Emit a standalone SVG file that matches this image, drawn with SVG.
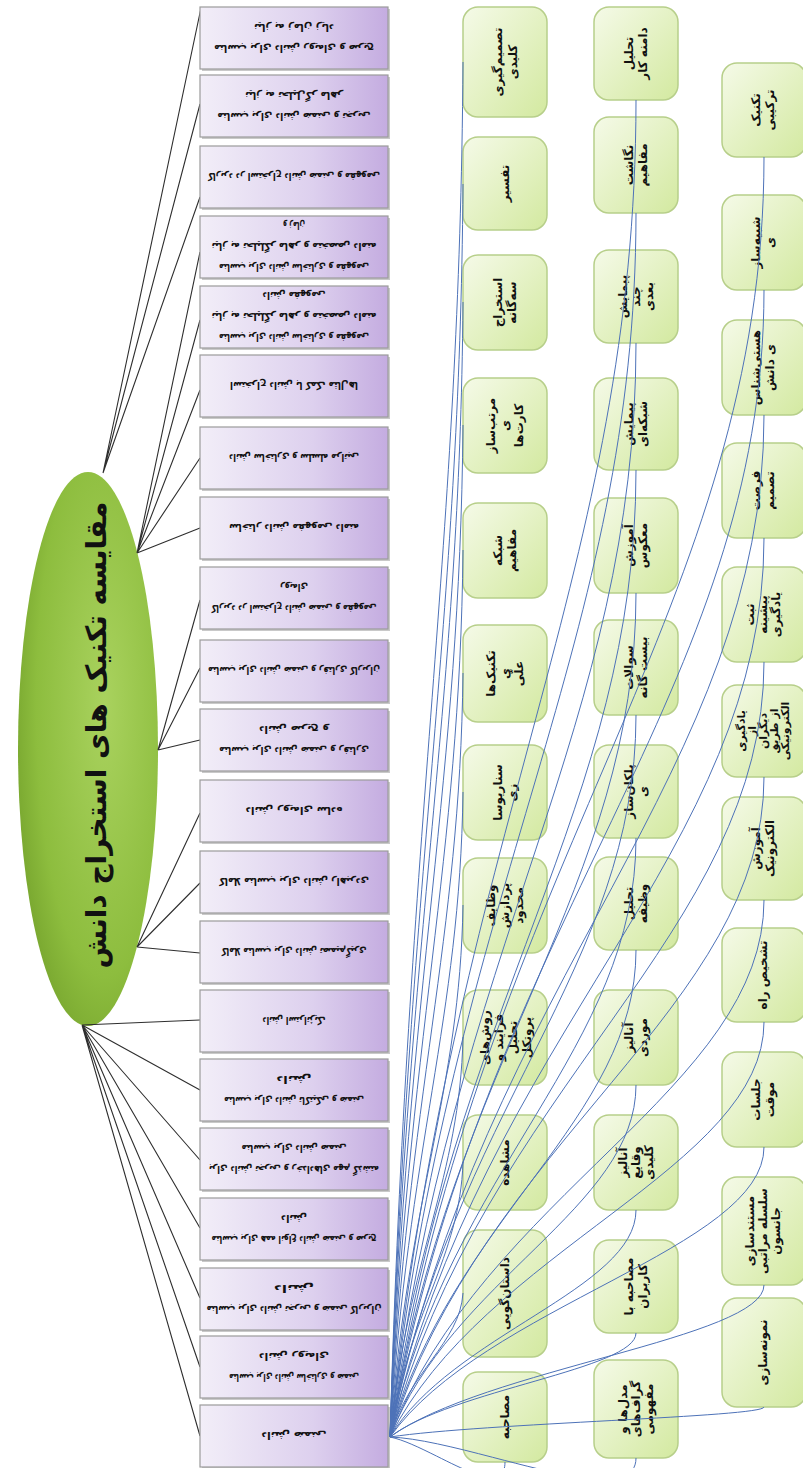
<svg xmlns="http://www.w3.org/2000/svg" width="803" height="1468" viewBox="0 0 803 1468">
<defs>
<linearGradient id="gP" x1="0" y1="0" x2="1" y2="0">
<stop offset="0" stop-color="#f2eef8"/><stop offset="0.6" stop-color="#ddd0ee"/><stop offset="1" stop-color="#c4ace0"/>
</linearGradient>
<linearGradient id="gG" x1="0" y1="0" x2="1" y2="1">
<stop offset="0" stop-color="#f5fae8"/><stop offset="1" stop-color="#d3e9a0"/>
</linearGradient>
<radialGradient id="gE" cx="0.62" cy="0.42" r="0.7">
<stop offset="0" stop-color="#a9d25e"/><stop offset="0.7" stop-color="#8dbd3e"/><stop offset="1" stop-color="#74a22c"/>
</radialGradient>
<style>
.pb{fill:url(#gP);stroke:#9b9b9b;stroke-width:1.2}
.sh{fill:#c9c9c9}
.gb{fill:url(#gG);stroke:#b7cf8a;stroke-width:1.5}
.pt{font-family:"DejaVu Sans",sans-serif;font-weight:bold;font-size:11px;fill:#111;text-anchor:middle}
.gt{font-family:"DejaVu Sans",sans-serif;font-weight:bold;font-size:12px;fill:#111;text-anchor:middle}
.gs{font-size:11px}
.tt{font-family:"DejaVu Sans",sans-serif;font-weight:bold;font-size:28px;fill:#111;text-anchor:middle}
.bk{stroke:#2e2e2e;stroke-width:1.1;fill:none}
.bl{stroke:#4d72b8;stroke-width:1;fill:none}
</style>
</defs>
<rect width="803" height="1468" fill="#ffffff"/>

<g id="title">
<ellipse cx="88" cy="749" rx="70" ry="277" fill="url(#gE)"/>
<text class="tt" transform="translate(96,735) rotate(-90)" x="0" y="10">مقایسه تکنیک های استخراج دانش</text>
</g>

<g id="connectors-main">
<path class="bk" d="M103,473 L201,8 M103,473 L200,104 M103,473 L200,197"/>
<path class="bk" d="M137,553 L200,252 M137,553 L200,320 M137,553 L200,390 M137,553 L200,458 M137,553 L200,528"/>
<path class="bk" d="M158,750 L200,600 M158,750 L200,668 M158,750 L200,740"/>
<path class="bk" d="M137,947 L200,813 M137,947 L200,883 M137,947 L200,953"/>
<path class="bk" d="M82,1025 L200,1020 M82,1025 L200,1090 M82,1025 L200,1160 M82,1025 L200,1228 M82,1025 L200,1298 M82,1025 L200,1367 M82,1025 L200,1436"/>
</g>

<g id="p1"><rect class="sh" x="202" y="9" width="188" height="62"/><rect class="pb" x="200" y="7" width="188" height="62"/><g transform="rotate(180 294 38)"><text class="pt" x="294" y="31" textLength="160" lengthAdjust="spacingAndGlyphs">مناسب برای دانش رویه‌ای و صریح</text><text class="pt" x="294" y="52" textLength="80" lengthAdjust="spacingAndGlyphs">نیاز به زمان زیاد</text></g></g>
<g id="p2"><rect class="sh" x="202" y="77" width="188" height="62"/><rect class="pb" x="200" y="75" width="188" height="62"/><g transform="rotate(180 294 106)"><text class="pt" x="294" y="99" textLength="153" lengthAdjust="spacingAndGlyphs">مناسب برای دانش ضمنی و تجربی</text><text class="pt" x="294" y="120" textLength="98" lengthAdjust="spacingAndGlyphs">نیاز به تحلیل‌گر ماهر</text></g></g>
<g id="p3"><rect class="sh" x="202" y="148" width="188" height="62"/><rect class="pb" x="200" y="146" width="188" height="62"/><g transform="rotate(180 294 177)"><text class="pt" x="294" y="181" textLength="172" lengthAdjust="spacingAndGlyphs">کاربرد در استخراج دانش ضمنی و مفهومی</text></g></g>
<g id="p4"><rect class="sh" x="202" y="218" width="188" height="62"/><rect class="pb" x="200" y="216" width="188" height="62"/><g transform="rotate(180 294 247)"><text class="pt" x="294" y="230" textLength="150" lengthAdjust="spacingAndGlyphs">مناسب برای دانش ساختاری و مفهومی</text><text class="pt" x="294" y="251" textLength="165" lengthAdjust="spacingAndGlyphs">نیاز به تحلیلگر ماهر و متخصص دامنه</text><text class="pt" x="294" y="272" textLength="22" lengthAdjust="spacingAndGlyphs">و زمان</text></g></g>
<g id="p5"><rect class="sh" x="202" y="288" width="188" height="62"/><rect class="pb" x="200" y="286" width="188" height="62"/><g transform="rotate(180 294 317)"><text class="pt" x="294" y="300" textLength="150" lengthAdjust="spacingAndGlyphs">مناسب برای دانش ساختاری و مفهومی</text><text class="pt" x="294" y="321" textLength="165" lengthAdjust="spacingAndGlyphs">نیاز به تحلیلگر ماهر و متخصص دامنه</text><text class="pt" x="294" y="342" textLength="63" lengthAdjust="spacingAndGlyphs">دانش مفهومی</text></g></g>
<g id="p6"><rect class="sh" x="202" y="357" width="188" height="62"/><rect class="pb" x="200" y="355" width="188" height="62"/><g transform="rotate(180 294 386)"><text class="pt" x="294" y="390" textLength="128" lengthAdjust="spacingAndGlyphs">استخراج دانش با کمک مثال‌ها</text></g></g>
<g id="p7"><rect class="sh" x="202" y="429" width="188" height="62"/><rect class="pb" x="200" y="427" width="188" height="62"/><g transform="rotate(180 294 458)"><text class="pt" x="294" y="462" textLength="130" lengthAdjust="spacingAndGlyphs">دانش ساختاری و سلسله مراتبی</text></g></g>
<g id="p8"><rect class="sh" x="202" y="499" width="188" height="62"/><rect class="pb" x="200" y="497" width="188" height="62"/><g transform="rotate(180 294 528)"><text class="pt" x="294" y="532" textLength="130" lengthAdjust="spacingAndGlyphs">ساختار دانش مفهومی دامنه</text></g></g>
<g id="p9"><rect class="sh" x="202" y="569" width="188" height="62"/><rect class="pb" x="200" y="567" width="188" height="62"/><g transform="rotate(180 294 598)"><text class="pt" x="294" y="591" textLength="165" lengthAdjust="spacingAndGlyphs">کاربرد در استخراج دانش ضمنی و مفهومی</text><text class="pt" x="294" y="612" textLength="28" lengthAdjust="spacingAndGlyphs">رویه‌ای</text></g></g>
<g id="p10"><rect class="sh" x="202" y="642" width="188" height="62"/><rect class="pb" x="200" y="640" width="188" height="62"/><g transform="rotate(180 294 671)"><text class="pt" x="294" y="675" textLength="172" lengthAdjust="spacingAndGlyphs">مناسب برای دانش ضمنی و رفتاری کاربران</text></g></g>
<g id="p11"><rect class="sh" x="202" y="711" width="188" height="62"/><rect class="pb" x="200" y="709" width="188" height="62"/><g transform="rotate(180 294 740)"><text class="pt" x="294" y="733" textLength="150" lengthAdjust="spacingAndGlyphs">مناسب برای دانش ضمنی و رفتاری</text><text class="pt" x="294" y="754" textLength="70" lengthAdjust="spacingAndGlyphs">دانش صریح و</text></g></g>
<g id="p12"><rect class="sh" x="202" y="782" width="188" height="62"/><rect class="pb" x="200" y="780" width="188" height="62"/><g transform="rotate(180 294 811)"><text class="pt" x="294" y="815" textLength="97" lengthAdjust="spacingAndGlyphs">دانش رویه‌ای ساده</text></g></g>
<g id="p13"><rect class="sh" x="202" y="853" width="188" height="62"/><rect class="pb" x="200" y="851" width="188" height="62"/><g transform="rotate(180 294 882)"><text class="pt" x="294" y="886" textLength="150" lengthAdjust="spacingAndGlyphs">کاملا مناسب برای دانش راهبردی</text></g></g>
<g id="p14"><rect class="sh" x="202" y="923" width="188" height="62"/><rect class="pb" x="200" y="921" width="188" height="62"/><g transform="rotate(180 294 952)"><text class="pt" x="294" y="956" textLength="145" lengthAdjust="spacingAndGlyphs">کاملا مناسب برای دانش تصمیم‌گیری</text></g></g>
<g id="p15"><rect class="sh" x="202" y="992" width="188" height="62"/><rect class="pb" x="200" y="990" width="188" height="62"/><g transform="rotate(180 294 1021)"><text class="pt" x="294" y="1025" textLength="63" lengthAdjust="spacingAndGlyphs">دانش استراتژیک</text></g></g>
<g id="p16"><rect class="sh" x="202" y="1061" width="188" height="62"/><rect class="pb" x="200" y="1059" width="188" height="62"/><g transform="rotate(180 294 1090)"><text class="pt" x="294" y="1083" textLength="140" lengthAdjust="spacingAndGlyphs">مناسب برای دانش تاکتیکی و ضمنی</text><text class="pt" x="294" y="1104" textLength="35" lengthAdjust="spacingAndGlyphs">دانش</text></g></g>
<g id="p17"><rect class="sh" x="202" y="1130" width="188" height="62"/><rect class="pb" x="200" y="1128" width="188" height="62"/><g transform="rotate(180 294 1159)"><text class="pt" x="294" y="1152" textLength="170" lengthAdjust="spacingAndGlyphs">برای دانش تجربی و رخدادهای مهم گذشته</text><text class="pt" x="294" y="1173" textLength="105" lengthAdjust="spacingAndGlyphs">مناسب برای دانش ضمنی</text></g></g>
<g id="p18"><rect class="sh" x="202" y="1200" width="188" height="62"/><rect class="pb" x="200" y="1198" width="188" height="62"/><g transform="rotate(180 294 1229)"><text class="pt" x="294" y="1222" textLength="165" lengthAdjust="spacingAndGlyphs">مناسب برای همه انواع دانش ضمنی و صریح</text><text class="pt" x="294" y="1243" textLength="26" lengthAdjust="spacingAndGlyphs">دانش</text></g></g>
<g id="p19"><rect class="sh" x="202" y="1270" width="188" height="62"/><rect class="pb" x="200" y="1268" width="188" height="62"/><g transform="rotate(180 294 1299)"><text class="pt" x="294" y="1292" textLength="175" lengthAdjust="spacingAndGlyphs">مناسب برای دانش تجربی و ضمنی کاربران</text><text class="pt" x="294" y="1313" textLength="40" lengthAdjust="spacingAndGlyphs">دانش</text></g></g>
<g id="p20"><rect class="sh" x="202" y="1338" width="188" height="62"/><rect class="pb" x="200" y="1336" width="188" height="62"/><g transform="rotate(180 294 1367)"><text class="pt" x="294" y="1360" textLength="130" lengthAdjust="spacingAndGlyphs">مناسب برای دانش ساختاری و ضمنی</text><text class="pt" x="294" y="1381" textLength="70" lengthAdjust="spacingAndGlyphs">دانش رویه‌ای</text></g></g>
<g id="p21"><rect class="sh" x="202" y="1407" width="188" height="62"/><rect class="pb" x="200" y="1405" width="188" height="62"/><g transform="rotate(180 294 1436)"><text class="pt" x="294" y="1440" textLength="65" lengthAdjust="spacingAndGlyphs">دانش ضمنی</text></g></g>

<g id="c1n1"><rect class="gb" x="463" y="7" width="84" height="110" rx="15"/><g transform="translate(505,62) rotate(-90)"><text class="gt" x="0" y="-3">تصمیم‌گیری</text><text class="gt" x="0" y="12">کلیدی</text></g></g>
<g id="c1n2"><rect class="gb" x="463" y="137" width="84" height="93" rx="15"/><g transform="translate(505,183.5) rotate(-90)"><text class="gt" x="0" y="4">تفسیر</text></g></g>
<g id="c1n3"><rect class="gb" x="463" y="255" width="84" height="95" rx="15"/><g transform="translate(505,302.5) rotate(-90)"><text class="gt" x="0" y="-3">استخراج</text><text class="gt" x="0" y="11">سه‌گانه</text></g></g>
<g id="c1n4"><rect class="gb" x="463" y="378" width="84" height="95" rx="15"/><g transform="translate(505,425.5) rotate(-90)"><text class="gt" x="0" y="-10">مرتب‌ساز</text><text class="gt" x="0" y="4">ی</text><text class="gt" x="0" y="18">کارت‌ها</text></g></g>
<g id="c1n5"><rect class="gb" x="463" y="503" width="84" height="95" rx="15"/><g transform="translate(505,550.5) rotate(-90)"><text class="gt" x="0" y="-3">شبکه</text><text class="gt" x="0" y="11">مفاهیم</text></g></g>
<g id="c1n6"><rect class="gb" x="463" y="625" width="84" height="97" rx="15"/><g transform="translate(505,673.5) rotate(-90)"><text class="gt" x="0" y="-10">تکنیک‌ها</text><text class="gt" x="0" y="4">ی</text><text class="gt" x="0" y="18">علّی</text></g></g>
<g id="c1n7"><rect class="gb" x="463" y="745" width="84" height="95" rx="15"/><g transform="translate(505,792.5) rotate(-90)"><text class="gt" x="0" y="-3">سناریوسا</text><text class="gt" x="0" y="11">زی</text></g></g>
<g id="c1n8"><rect class="gb" x="463" y="858" width="84" height="95" rx="15"/><g transform="translate(505,905.5) rotate(-90)"><text class="gt" x="0" y="-10">وظایف</text><text class="gt" x="0" y="4">پردازش</text><text class="gt" x="0" y="18">محدود</text></g></g>
<g id="c1n9"><rect class="gb" x="463" y="990" width="84" height="95" rx="15"/><g transform="translate(505,1037.5) rotate(-90)"><text class="gt" x="0" y="-16">روش‌های</text><text class="gt" x="0" y="-2">فرایند و</text><text class="gt" x="0" y="12">تحلیل</text><text class="gt" x="0" y="26">پروتکل</text></g></g>
<g id="c1n10"><rect class="gb" x="463" y="1115" width="84" height="95" rx="15"/><g transform="translate(505,1162.5) rotate(-90)"><text class="gt" x="0" y="4">مشاهده</text></g></g>
<g id="c1n11"><rect class="gb" x="463" y="1230" width="84" height="127" rx="15"/><g transform="translate(505,1293.5) rotate(-90)"><text class="gt" x="0" y="4">داستان‌گویی</text></g></g>
<g id="c1n12"><rect class="gb" x="463" y="1372" width="84" height="90" rx="15"/><g transform="translate(505,1417) rotate(-90)"><text class="gt" x="0" y="4">مصاحبه</text></g></g>

<g id="c2n1"><rect class="gb" x="594" y="7" width="84" height="93" rx="15"/><g transform="translate(636,53.5) rotate(-90)"><text class="gt" x="0" y="-3">تحلیل</text><text class="gt" x="0" y="11">دامنه کار</text></g></g>
<g id="c2n2"><rect class="gb" x="594" y="117" width="84" height="96" rx="15"/><g transform="translate(636,165) rotate(-90)"><text class="gt" x="0" y="-3">نگاشت</text><text class="gt" x="0" y="11">مفاهیم</text></g></g>
<g id="c2n3"><rect class="gb" x="594" y="250" width="84" height="93" rx="15"/><g transform="translate(636,296.5) rotate(-90)"><text class="gt" x="0" y="-9">پیمایش</text><text class="gt" x="0" y="4">چند</text><text class="gt" x="0" y="17">بعدی</text></g></g>
<g id="c2n4"><rect class="gb" x="594" y="378" width="84" height="92" rx="15"/><g transform="translate(636,424) rotate(-90)"><text class="gt" x="0" y="-3">پیمایش</text><text class="gt" x="0" y="11">شبکه‌ای</text></g></g>
<g id="c2n5"><rect class="gb" x="594" y="498" width="84" height="95" rx="15"/><g transform="translate(636,545.5) rotate(-90)"><text class="gt" x="0" y="-3">آموزش</text><text class="gt" x="0" y="11">معکوس</text></g></g>
<g id="c2n6"><rect class="gb" x="594" y="620" width="84" height="95" rx="15"/><g transform="translate(636,667.5) rotate(-90)"><text class="gt" x="0" y="-3">سوالات</text><text class="gt" x="0" y="11">بیست گانه</text></g></g>
<g id="c2n7"><rect class="gb" x="594" y="745" width="84" height="93" rx="15"/><g transform="translate(636,791.5) rotate(-90)"><text class="gt" x="0" y="-3">پلکان‌ساز</text><text class="gt" x="0" y="11">ی</text></g></g>
<g id="c2n8"><rect class="gb" x="594" y="857" width="84" height="93" rx="15"/><g transform="translate(636,903.5) rotate(-90)"><text class="gt" x="0" y="-3">تحلیل</text><text class="gt" x="0" y="11">وظیفه</text></g></g>
<g id="c2n9"><rect class="gb" x="594" y="990" width="84" height="95" rx="15"/><g transform="translate(636,1037.5) rotate(-90)"><text class="gt" x="0" y="-3">آنالیز</text><text class="gt" x="0" y="11">موردی</text></g></g>
<g id="c2n10"><rect class="gb" x="594" y="1115" width="84" height="95" rx="15"/><g transform="translate(636,1162.5) rotate(-90)"><text class="gt" x="0" y="-9">آنالیز</text><text class="gt" x="0" y="4">وقایع</text><text class="gt" x="0" y="17">کلیدی</text></g></g>
<g id="c2n11"><rect class="gb" x="594" y="1240" width="84" height="93" rx="15"/><g transform="translate(636,1286.5) rotate(-90)"><text class="gt" x="0" y="-3">مصاحبه با</text><text class="gt" x="0" y="11">کاربران</text></g></g>
<g id="c2n12"><rect class="gb" x="594" y="1360" width="84" height="98" rx="15"/><g transform="translate(636,1409) rotate(-90)"><text class="gt" x="0" y="-9">مدل‌ها و</text><text class="gt" x="0" y="4">گراف‌های</text><text class="gt" x="0" y="17">مفهومی</text></g></g>

<g id="c3n1"><rect class="gb" x="722" y="63" width="84" height="94" rx="15"/><g transform="translate(763,110) rotate(-90)"><text class="gt" x="0" y="-3">تکنیک</text><text class="gt" x="0" y="11">ترکیبی</text></g></g>
<g id="c3n2"><rect class="gb" x="722" y="195" width="84" height="95" rx="15"/><g transform="translate(763,242.5) rotate(-90)"><text class="gt" x="0" y="-3">شبیه‌ساز</text><text class="gt" x="0" y="11">ی</text></g></g>
<g id="c3n3"><rect class="gb" x="722" y="320" width="84" height="95" rx="15"/><g transform="translate(763,367.5) rotate(-90)"><text class="gt" x="0" y="-3">هستی‌شناس</text><text class="gt" x="0" y="11">ی دانش</text></g></g>
<g id="c3n4"><rect class="gb" x="722" y="443" width="84" height="95" rx="15"/><g transform="translate(763,490.5) rotate(-90)"><text class="gt" x="0" y="-3">فرصت</text><text class="gt" x="0" y="11">تصمیم</text></g></g>
<g id="c3n5"><rect class="gb" x="722" y="567" width="84" height="95" rx="15"/><g transform="translate(763,614.5) rotate(-90)"><text class="gt" x="0" y="-9">ثبت</text><text class="gt" x="0" y="4">پیشینه</text><text class="gt" x="0" y="17">یادگیری</text></g></g>
<g id="c3n6"><rect class="gb" x="722" y="685" width="84" height="92" rx="15"/><g transform="translate(763,731) rotate(-90)"><text class="gt gs" x="0" y="-18">یادگیری</text><text class="gt gs" x="0" y="-7">از</text><text class="gt gs" x="0" y="4">دیگران</text><text class="gt gs" x="0" y="15">از طریق</text><text class="gt gs" x="0" y="26">الکترونیکی</text></g></g>
<g id="c3n7"><rect class="gb" x="722" y="797" width="84" height="103" rx="15"/><g transform="translate(763,848.5) rotate(-90)"><text class="gt" x="0" y="-3">آموزش</text><text class="gt" x="0" y="11">الکترونیک</text></g></g>
<g id="c3n8"><rect class="gb" x="722" y="928" width="84" height="94" rx="15"/><g transform="translate(763,975) rotate(-90)"><text class="gt" x="0" y="4">تشخیص راه</text></g></g>
<g id="c3n9"><rect class="gb" x="722" y="1052" width="84" height="95" rx="15"/><g transform="translate(763,1099.5) rotate(-90)"><text class="gt" x="0" y="-3">جلسات</text><text class="gt" x="0" y="11">موقت</text></g></g>
<g id="c3n10"><rect class="gb" x="722" y="1177" width="84" height="108" rx="15"/><g transform="translate(763,1231) rotate(-90)"><text class="gt" x="0" y="-9">مستندسازی</text><text class="gt" x="0" y="4">سلسله مراتبی</text><text class="gt" x="0" y="17">جانسون</text></g></g>
<g id="c3n11"><rect class="gb" x="722" y="1298" width="84" height="109" rx="15"/><g transform="translate(763,1352.5) rotate(-90)"><text class="gt" x="0" y="4">نمونه‌سازی</text></g></g>

<g id="connectors-techniques">
<path class="bl" d="M390,1437 C408,818 460,543 463,62"/>
<path class="bl" d="M390,1437 C408,873 460,623 463,184"/>
<path class="bl" d="M390,1437 C408,926 460,699 463,302"/>
<path class="bl" d="M390,1437 C408,982 460,779 463,425"/>
<path class="bl" d="M390,1437 C408,1038 460,860 463,550"/>
<path class="bl" d="M390,1437 C408,1093 460,940 463,673"/>
<path class="bl" d="M390,1437 C408,1147 460,1018 463,792"/>
<path class="bl" d="M390,1437 C408,1198 460,1091 463,905"/>
<path class="bl" d="M390,1437 C408,1257 460,1177 463,1037"/>
<path class="bl" d="M390,1437 C408,1313 460,1258 463,1162"/>
<path class="bl" d="M390,1437 C408,1372 460,1343 463,1293"/>
<path class="bl" d="M390,1437 C430,1445 505,1505 505,1462"/>
<path class="bl" d="M390,1437 C451,835 636,568 636,100"/>
<path class="bl" d="M390,1437 C451,886 636,641 636,213"/>
<path class="bl" d="M390,1437 C451,945 636,726 636,343"/>
<path class="bl" d="M390,1437 C451,1002 636,808 636,470"/>
<path class="bl" d="M390,1437 C451,1057 636,888 636,593"/>
<path class="bl" d="M390,1437 C451,1112 636,968 636,715"/>
<path class="bl" d="M390,1437 C451,1167 636,1048 636,838"/>
<path class="bl" d="M390,1437 C451,1218 636,1120 636,950"/>
<path class="bl" d="M390,1437 C451,1279 636,1208 636,1085"/>
<path class="bl" d="M390,1437 C451,1335 636,1289 636,1210"/>
<path class="bl" d="M390,1437 C451,1390 636,1369 636,1333"/>
<path class="bl" d="M390,1437 C470,1440 636,1515 636,1458"/>
<path class="bl" d="M390,1437 C483,861 764,605 764,157"/>
<path class="bl" d="M390,1437 C483,921 764,691 764,290"/>
<path class="bl" d="M390,1437 C483,977 764,773 764,415"/>
<path class="bl" d="M390,1437 C483,1032 764,853 764,538"/>
<path class="bl" d="M390,1437 C483,1088 764,933 764,662"/>
<path class="bl" d="M390,1437 C483,1140 764,1008 764,777"/>
<path class="bl" d="M390,1437 C483,1195 764,1088 764,900"/>
<path class="bl" d="M390,1437 C483,1250 764,1167 764,1022"/>
<path class="bl" d="M390,1437 C483,1306 764,1248 764,1147"/>
<path class="bl" d="M390,1437 C483,1369 764,1338 764,1285"/>
<path class="bl" d="M390,1437 C483,1423 764,1417 764,1407"/>
</g>
</svg>
